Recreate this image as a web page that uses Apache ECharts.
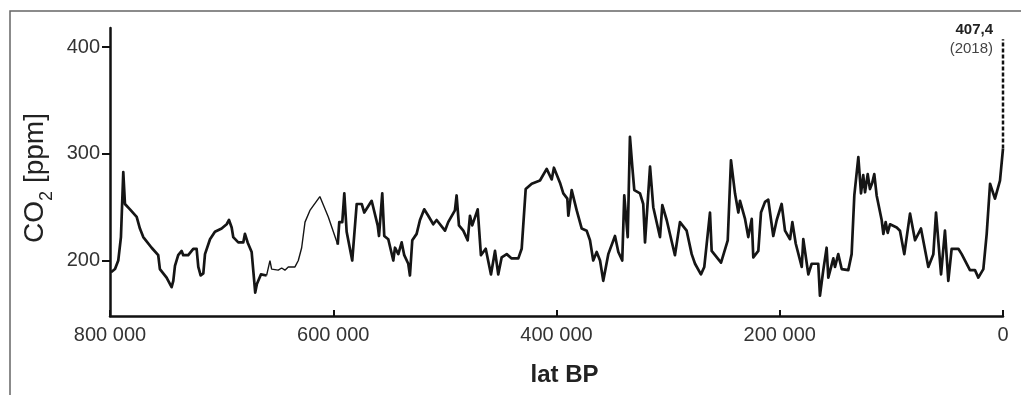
<!DOCTYPE html>
<html>
<head>
<meta charset="utf-8">
<script src="https://cdn.jsdelivr.net/npm/echarts@6/dist/echarts.min.js"></script>
<style>
  html, body { margin: 0; padding: 0; background: #fff; }
  #chart { width: 1021px; height: 395px; }
</style>
</head>
<body>
<div id="chart"></div>
<script>
// ice core CO2, years before present (BP) and ppm
const ages = [
  799100, 795500, 792600, 790200, 788100, 786600, 782100, 776100, 773200, 770200,
  762700, 756800, 755300, 749300, 744800, 743300, 741800, 738900, 735800, 734400,
  729900, 725400, 722400, 720900, 718800, 716400, 714900, 710400, 706000, 700000,
  695500, 693400, 691000, 689600, 685100, 680600, 679100, 676700, 673100, 669900,
  668400, 664800, 659700, 656700, 655200, 649300, 646200, 643300, 640300, 634300,
  631300, 628300, 625300, 620900, 612000, 604500, 596000, 594600, 591900, 590100,
  588000, 583000, 579000, 574500, 572200, 565600, 560200, 559000, 556100, 554300,
  550700, 546200, 544700, 541700, 538700, 536400, 532800, 531300, 529200, 525300,
  522300, 518500, 514900, 510400, 507400, 499900, 497000, 491000, 489500, 487400,
  483500, 479600, 477500, 475500, 470600, 467700, 463400, 458700, 455100, 452200,
  449100, 444600, 440200, 434200, 431200, 427600, 422200, 414800, 408800, 404300,
  402300, 396900, 393900, 390300, 389400, 386400, 381900, 377400, 373000, 370000,
  367100, 364000, 361000, 358100, 353600, 347600, 344600, 341100, 339300, 336200,
  334200, 332100, 330300, 325200, 322300, 320700, 316200, 313300, 307300, 305200,
  301300, 293900, 289400, 283400, 278900, 275900, 270600, 267600, 262500, 261000,
  252600, 246600, 243700, 240100, 237100, 235600, 231100, 228200, 225100, 223700,
  219200, 216800, 213200, 210300, 205800, 202700, 198300, 195300, 190800, 188700,
  185700, 180300, 178900, 174400, 171400, 165500, 164000, 161000, 158000, 156500,
  152000, 150500, 147600, 144500, 138600, 135600, 133200, 129600, 127200, 125200,
  123600, 121200, 119200, 117100, 115300, 113200, 108700, 107200, 105100, 103300,
  101200, 95200, 92300, 88400, 83300, 78800, 73500, 66900, 62400, 60000,
  55500, 52000, 49000, 46000, 40000, 37000, 29600, 25100, 22100, 17600,
  14600, 11600, 7200, 2700, 0
];
const co2 = [
  189, 192, 200, 222, 283, 253, 248, 241, 230, 222,
  212, 205, 192, 184, 175, 181, 195, 205, 209, 205,
  205, 211, 211, 194, 186, 188, 206, 220, 227, 230,
  234, 238, 231, 222, 217, 217, 225, 217, 208, 170,
  178, 187, 186, 200, 192, 191, 193, 191, 194, 194,
  200, 212, 236, 247, 260, 241, 215, 236, 236, 263,
  227, 200, 253, 253, 245, 256, 233, 223, 263, 223,
  220, 200, 212, 206, 217, 205, 197, 186, 219, 225,
  238, 248, 242, 234, 238, 228, 236, 247, 261, 233,
  228, 219, 242, 233, 248, 205, 211, 187, 209, 187,
  203, 206, 202, 202, 211, 267, 272, 275, 286, 276,
  287, 273, 263, 258, 242, 266, 247, 230, 228, 219,
  200, 208, 200, 181, 206, 223, 208, 200, 261, 222,
  316, 288, 266, 263, 253, 217, 288, 250, 222, 252,
  238, 205, 236, 228, 206, 197, 187, 194, 245, 209,
  198, 219, 294, 263, 245, 256, 239, 222, 239, 203,
  209, 245, 255, 257, 223, 238, 253, 228, 220, 236,
  216, 194, 220, 187, 197, 197, 167, 191, 212, 184,
  202, 194, 206, 192, 191, 206, 261, 297, 263, 280,
  264, 281, 267, 273, 281, 261, 238, 225, 236, 226,
  234, 231, 228, 206, 244, 219, 230, 194, 206, 245,
  187, 228, 181, 211, 211, 206, 191, 191, 184, 192,
  225, 272, 258, 275, 305
];
// thinner stretch of the record
const thinFrom = 659700;
const thinTo = 596000;
// 2018 value
const lastAge = 0;
const lastValue = 407.4;
const lastLabel = '407,4';
const lastYear = '(2018)';

const yTicks = [200, 300, 400];

const pts = ages.map((a, i) => [a, co2[i]]);
const part1 = pts.filter(p => p[0] >= thinFrom);
const partThin = pts.filter(p => p[0] <= thinFrom && p[0] >= thinTo);
const part2 = pts.filter(p => p[0] <= thinTo);

const fmtAge = v => v === 0 ? '0' : String(v).replace(/\B(?=(\d{3})+(?!\d))/g, ' ');

const chart = echarts.init(document.getElementById('chart'));
const lineBase = {
  type: 'line',
  showSymbol: false,
  symbol: 'none',
  silent: true,
  lineStyle: { color: '#151515', width: 2.7, join: 'round' },
  z: 3
};

chart.setOption({
  animation: false,
  backgroundColor: '#fff',
  graphic: [{
    type: 'rect',
    shape: { x: 10, y: 11, width: 1100, height: 500 },
    style: { fill: 'none', stroke: '#666', lineWidth: 1.5 },
    silent: true
  }],
  grid: { left: 110, right: 18, top: 28, bottom: 79 },
  xAxis: {
    type: 'value',
    inverse: true,
    min: 0,
    max: 800000,
    interval: 200000,
    name: 'lat BP',
    nameLocation: 'middle',
    nameGap: 47,
    nameTextStyle: { fontFamily: 'Liberation Sans', fontSize: 24, fontWeight: 'bold', color: '#222', padding: [0, 0, 0, 16] },
    axisLine: { onZero: false, lineStyle: { color: '#111', width: 2.5 } },
    axisTick: { inside: true, length: 6, lineStyle: { color: '#111', width: 2 } },
    axisLabel: {
      margin: 9,
      fontFamily: 'Liberation Sans', fontSize: 20, color: '#333',
      formatter: fmtAge
    },
    splitLine: { show: false }
  },
  yAxis: {
    type: 'value',
    position: 'left',
    min: 148,
    max: 418,
    name: '{a|CO}{b|2}{a| [ppm]}',
    nameLocation: 'middle',
    nameGap: 51,
    nameTextStyle: {
      color: '#222',
      padding: [0, 12, 0, 0],
      rich: {
        a: { fontFamily: 'Liberation Sans', fontSize: 28, color: '#222', verticalAlign: 'bottom', padding: [0, 0, 6, 0] },
        b: { fontFamily: 'Liberation Sans', fontSize: 18, color: '#222', verticalAlign: 'bottom', lineHeight: 19 }
      }
    },
    axisLine: { show: true, onZero: false, lineStyle: { color: '#111', width: 2.5 } },
    axisTick: { show: true, length: 8, customValues: yTicks, lineStyle: { color: '#111', width: 2 } },
    axisLabel: {
      margin: 10,
      customValues: yTicks,
      fontFamily: 'Liberation Sans', fontSize: 20, color: '#333'
    },
    splitLine: { show: false }
  },
  series: [
    Object.assign({}, lineBase, { data: part1 }),
    Object.assign({}, lineBase, { data: partThin, lineStyle: { color: '#151515', width: 1.4 } }),
    Object.assign({}, lineBase, { data: part2 }),
    {
      type: 'line',
      silent: true,
      symbol: 'none',
      data: [[lastAge, co2[co2.length - 1]], [lastAge, lastValue]],
      lineStyle: { color: '#111', width: 2.5, type: [4, 2] },
      endLabel: {
        show: true,
        position: 'left',
        distance: 10,
        formatter: '{v|' + lastLabel + '}\n{y|' + lastYear + '}',
        align: 'right',
        rich: {
          v: { fontFamily: 'Liberation Sans', fontSize: 15, fontWeight: 'bold', color: '#222', lineHeight: 19, align: 'right' },
          y: { fontFamily: 'Liberation Sans', fontSize: 15, color: '#444', lineHeight: 19, align: 'right' }
        }
      }
    }
  ]
});
</script>
</body>
</html>
